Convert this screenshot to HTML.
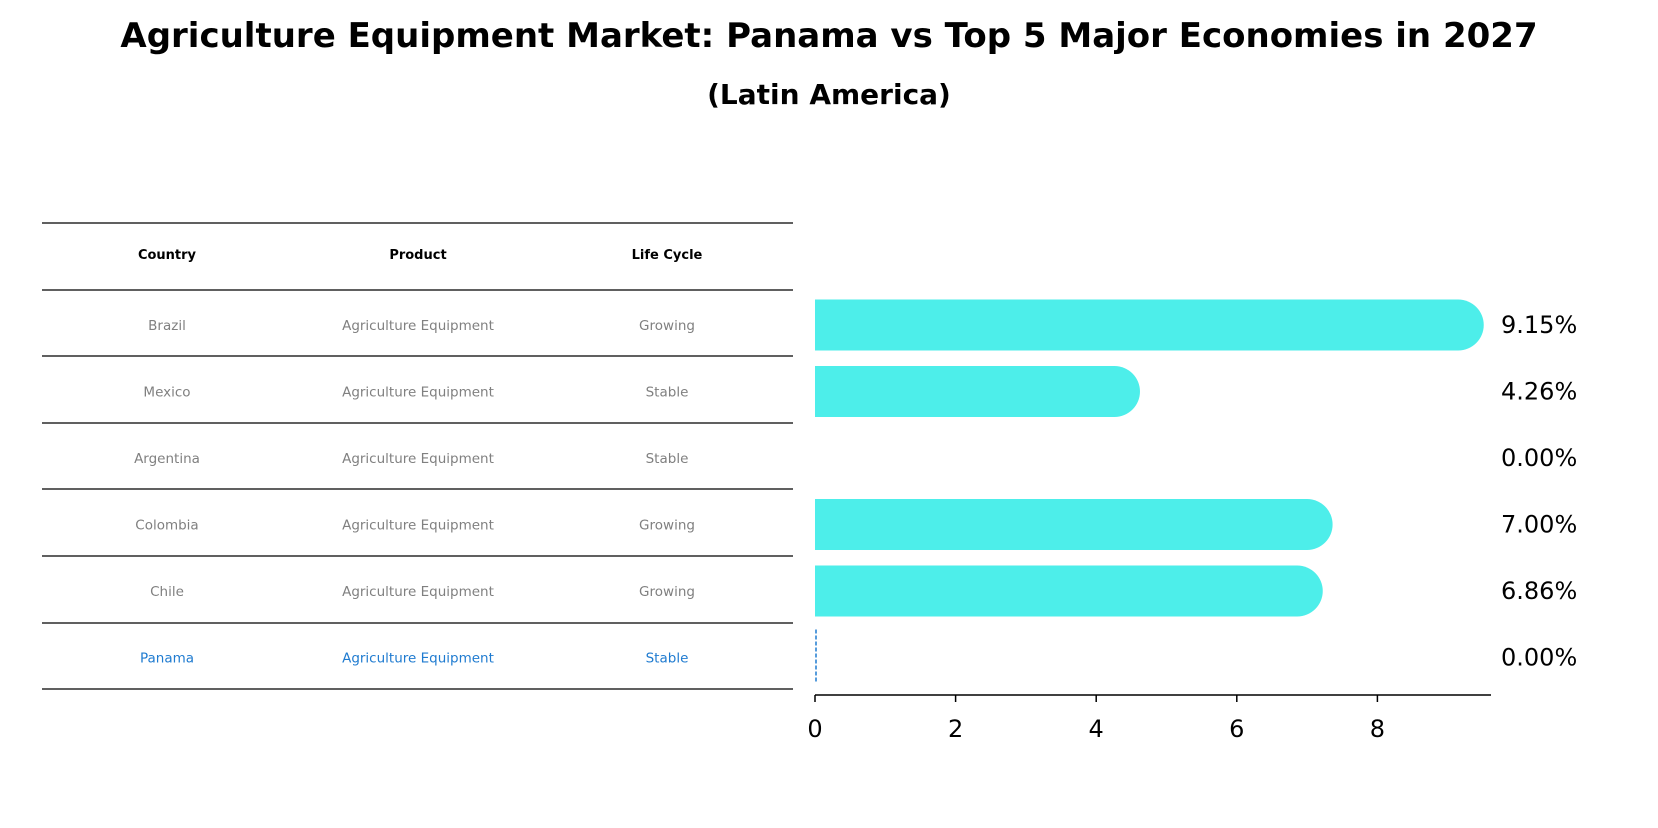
<!DOCTYPE html>
<html><head><meta charset="utf-8"><style>
body{margin:0;background:#fff;width:1658px;height:823px;overflow:hidden;font-family:"Liberation Sans","DejaVu Sans",sans-serif}
</style></head><body>
<svg width="1658" height="823" xmlns="http://www.w3.org/2000/svg">
<text x="829" y="47" text-anchor="middle" font-size="34" font-weight="bold" font-family="DejaVu Sans, Liberation Sans, sans-serif">Agriculture Equipment Market: Panama vs Top 5 Major Economies in 2027</text>
<text x="829" y="104" text-anchor="middle" font-size="28" font-weight="bold" font-family="DejaVu Sans, Liberation Sans, sans-serif">(Latin America)</text>
<g id="table"></g>
<g id="bars"></g>
</svg>
<script>
const countries=["Brazil","Mexico","Argentina","Colombia","Chile","Panama"];
const products=["Agriculture Equipment","Agriculture Equipment","Agriculture Equipment","Agriculture Equipment","Agriculture Equipment","Agriculture Equipment"];
const lifecycle=["Growing","Stable","Stable","Growing","Growing","Stable"];
const values=[9.15,4.26,0.00,7.00,6.86,0.00];
const ticks=[0,2,4,6,8];
const NS="http://www.w3.org/2000/svg";
function mk(t,a,p){const e=document.createElementNS(NS,t);for(const k in a)e.setAttribute(k,a[k]);p.appendChild(e);return e;}
const X=v=>815+v*70.3;
const rowY=i=>325+i*66.5;
const tb=document.getElementById('table'), bg=document.getElementById('bars');
const colX=[167,418,667];
const lineYs=[223,290,356,423,489,556,623,689];
lineYs.forEach(y=>{const l=mk('line',{x1:42,x2:793,y1:y,y2:y,stroke:'#000','stroke-width':1.2},tb);

});
["Country","Product","Life Cycle"].forEach((h,j)=>{const t=mk('text',{x:colX[j],y:259,'text-anchor':'middle','font-size':13,'font-weight':'bold','font-family':'DejaVu Sans, sans-serif'},tb);t.textContent=h;

});
countries.forEach((c,i)=>{const col=i===countries.length-1?'#1f7bd0':'#808080';
[c,products[i],lifecycle[i]].forEach((s,j)=>{const t=mk('text',{x:colX[j],y:rowY(i)+5,'text-anchor':'middle','font-size':13.5,fill:col,'font-family':'DejaVu Sans, sans-serif'},tb);t.textContent=s;

});
const v=values[i],y=rowY(i),h=51;
if(i===countries.length-1){const l=mk('line',{x1:X(0)+1,x2:X(0)+1,y1:y-28,y2:y+25,stroke:'#1f7bd0','stroke-width':1.5,'stroke-dasharray':'4,2'},bg);

}
else if(v>0){const p=mk('path',{d:`M${X(0)},${y-h/2} H${X(v)} A${h/2},${h/2} 0 0 1 ${X(v)},${y+h/2} H${X(0)} Z`,fill:'#4deeea'},bg);

}
const t=mk('text',{x:1501,y:y+8,'font-size':24,'font-family':'DejaVu Sans, sans-serif'},bg);t.textContent=v.toFixed(2)+'%';

});
const ax=mk('line',{x1:X(0),x2:1491,y1:695,y2:695,stroke:'#000','stroke-width':1.5},bg);


ticks.forEach(v=>{const l=mk('line',{x1:X(v),x2:X(v),y1:695,y2:702,stroke:'#000','stroke-width':1.5},bg);


const t=mk('text',{x:X(v),y:737,'text-anchor':'middle','font-size':24,'font-family':'DejaVu Sans, sans-serif'},bg);t.textContent=v;

});
</script>
</body></html>
